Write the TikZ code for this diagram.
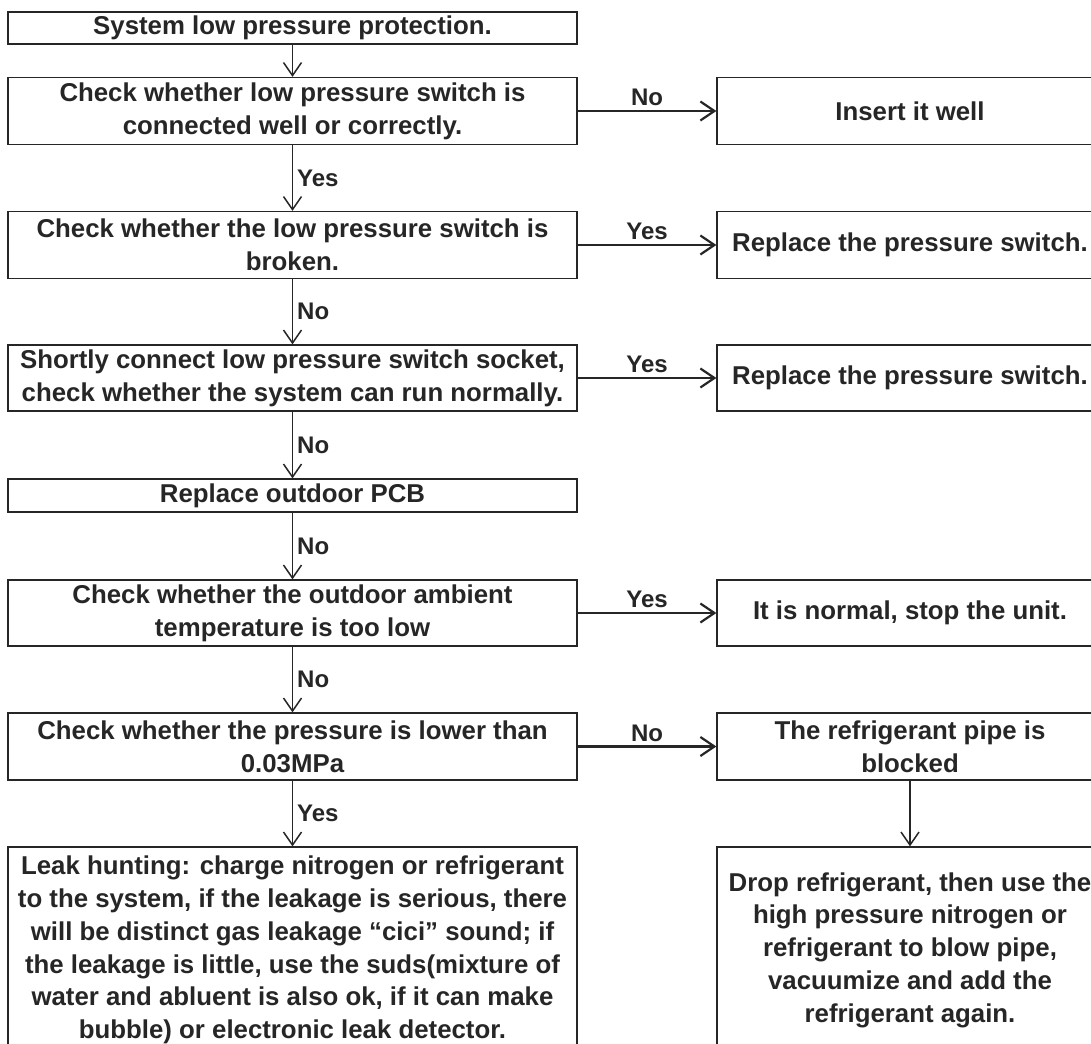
\documentclass[tikz,border=0pt]{standalone}
\usepackage{fontspec}
\setmainfont{Liberation Sans}
\usetikzlibrary{arrows.meta}
\begin{document}
\begin{tikzpicture}[x=1pt,y=-1pt,
  box/.style={draw=black!85, line width=1.3pt, inner sep=0pt, align=center,
    text=black!85, font=\bfseries\fontsize{25.8}{32.7}\selectfont},
  lbox/.style={box, minimum width=569pt},
  rbox/.style={box, minimum width=386pt},
  arr/.style={draw=black!85, line width=1.4pt, -{Straight Barb[length=13pt,width=18pt,line width=1.5pt]}},
  harr/.style={draw=black!85, line width=2.4pt, -{Straight Barb[length=14pt,width=19pt,line width=2.2pt]}},
  lab/.style={text=black!85, font=\bfseries\fontsize{24}{28}\selectfont, inner sep=1pt}]
\useasboundingbox (0,0) rectangle (1091,1043);
\fill[white] (0,0) rectangle (1091,1043);
\clip (0,0) rectangle (1091,1043);
% left column
\node[lbox, minimum height=32pt] (b1) at (292.5,28) {System low pressure protection.};
\node[lbox, minimum height=67pt] (b2) at (292.5,111) {Check whether low pressure switch is\\connected well or correctly.};
\node[lbox, minimum height=67pt] (b3) at (292.5,245) {Check whether the low pressure switch is\\broken.};
\node[lbox, minimum height=66pt] (b4) at (292.5,378) {Shortly connect low pressure switch socket,\\check whether the system can run normally.};
\node[lbox, minimum height=33pt] (b5) at (292.5,495.5) {Replace outdoor PCB};
\node[lbox, minimum height=66pt] (b6) at (292.5,613) {Check whether the outdoor ambient\\temperature is too low};
\node[lbox, minimum height=67pt] (b7) at (292.5,746.5) {Check whether the pressure is lower than\\0.03MPa};
\node[lbox, minimum height=206pt] (b8) at (292.5,950) {Leak hunting: charge nitrogen or refrigerant\\to the system, if the leakage is serious, there\\will be distinct gas leakage “cici” sound; if\\the leakage is little, use the suds(mixture of\\water and abluent is also ok, if it can make\\bubble) or electronic leak detector.};
% right column
\node[rbox, minimum height=67pt] (r2) at (910,111) {Insert it well};
\node[rbox, minimum height=67pt] (r3) at (910,245) {Replace the pressure switch.};
\node[rbox, minimum height=66pt] (r4) at (910,378) {Replace the pressure switch.};
\node[rbox, minimum height=66pt] (r6) at (910,613) {It is normal, stop the unit.};
\node[rbox, minimum height=67pt] (r7) at (910,746.5) {The refrigerant pipe is\\blocked};
\node[rbox, minimum height=206pt] (r9) at (910,950) {Drop refrigerant, then use the\\high pressure nitrogen or\\refrigerant to blow pipe,\\vacuumize and add the\\refrigerant again.};
% vertical connectors
\draw[arr] (b1) -- (b2);
\draw[arr] (b2) -- node[lab, right=3pt] {Yes} (b3);
\draw[arr] (b3) -- node[lab, right=3pt] {No} (b4);
\draw[arr] (b4) -- node[lab, right=3pt] {No} (b5);
\draw[arr] (b5) -- node[lab, right=3pt] {No} (b6);
\draw[arr] (b6) -- node[lab, right=3pt] {No} (b7);
\draw[arr] (b7) -- node[lab, right=3pt] {Yes} (b8);
\draw[arr] (r7) -- (r9);
% horizontal connectors
\draw[harr] (b2) -- node[lab, above=3pt] {No} (r2);
\draw[harr] (b3) -- node[lab, above=3pt] {Yes} (r3);
\draw[harr] (b4) -- node[lab, above=3pt] {Yes} (r4);
\draw[harr] (b6) -- node[lab, above=3pt] {Yes} (r6);
\draw[harr] (b7) -- node[lab, above=3pt] {No} (r7);
\end{tikzpicture}
\end{document}
